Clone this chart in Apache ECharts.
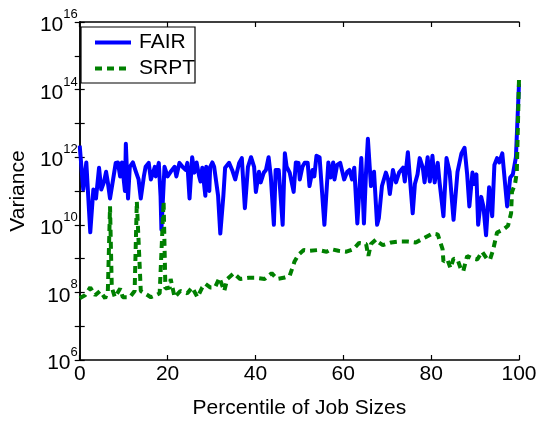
<!DOCTYPE html>
<html>
<head>
<meta charset="utf-8">
<script src="https://cdn.jsdelivr.net/npm/echarts@6/dist/echarts.min.js"></script>
<style>html,body{margin:0;padding:0;background:#fff}#c{width:540px;height:424px}</style>
</head>
<body>
<div id="c"></div>
<script>
var seriesNames = ['FAIR', 'SRPT'];
var xTicks = [0, 20, 40, 60, 80, 100];
var yExponents = [6, 8, 10, 12, 14, 16];
// [percentile, variance]
var fairData = [[0,2.2e12],[0.8,1.1e11],[1.5,7e11],[1.9,6.8e11],[2.4,6e9],[3.1,1.1e11],[3.5,1.1e11],[3.7,6e10],[4.4,4.9e11],[4.9,1.1e11],[5.5,1.8e11],[6.0,3.7e11],[6.4,1.8e11],[6.9,6e10],[7.6,2.2e11],[8.2,6.8e11],[8.7,7e11],[9.2,2.7e11],[9.6,7e11],[10.3,1e11],[10.5,2.5e12],[11.0,6e10],[11.4,5.2e11],[12.1,7e11],[12.8,3.7e11],[13.4,2.2e11],[13.9,6e10],[14.6,2.7e11],[15.0,5.2e11],[15.7,6.8e11],[16.2,2.2e11],[17.1,5.2e11],[17.3,2.7e11],[18.0,6.8e11],[18.4,7.2e10],[18.6,7.2e9],[19.3,5.2e11],[20.0,2.7e11],[20.7,3.7e11],[21.6,5.2e11],[22.0,2.7e11],[22.7,6.8e11],[23.4,5.2e11],[24.1,4.2e11],[24.5,6.8e11],[25.0,6e10],[25.6,1e12],[26.1,3.5e11],[26.6,7e11],[27.2,2.7e11],[27.5,1.9e11],[27.9,4.9e11],[28.6,7.2e10],[28.8,5.2e11],[29.5,1e11],[29.7,5.2e11],[30.2,7e11],[30.6,5.2e11],[31.5,7.2e10],[32.0,5.5e9],[32.7,7.2e10],[33.1,4.9e11],[34.0,6.8e11],[34.7,4.2e11],[35.4,2.2e11],[36.3,6.8e11],[36.9,9.4e11],[37.6,3.1e10],[38.3,5.2e11],[39.0,1e12],[39.7,5.2e11],[40.1,9.4e10],[40.8,3.7e11],[41.2,1.8e11],[41.9,3.5e11],[42.4,4.2e11],[43.0,1e12],[43.5,2.7e11],[44.2,1e10],[44.6,4.2e11],[45.3,4.2e11],[46.2,1e10],[46.7,1.3e12],[47.1,5.2e11],[47.8,3.5e11],[48.2,3.1e11],[48.7,9.4e10],[49.2,7e11],[49.8,6.8e11],[50.1,2.2e11],[50.7,5.2e11],[51.2,6.8e11],[51.9,6.8e11],[52.3,1.4e11],[53.0,4.2e11],[53.4,2.7e11],[53.9,1.1e12],[54.6,1e12],[55.7,1e10],[56.6,7e11],[57.1,2.5e11],[57.7,7e11],[58.0,2.2e11],[58.6,5.9e11],[59.3,6.8e11],[60.2,2.2e11],[60.9,3.7e11],[61.4,4.2e11],[62.0,2.2e11],[62.5,4.9e11],[63.2,1.1e10],[64.1,9.4e11],[64.7,1.1e10],[65.2,4.2e11],[65.6,3.5e12],[66.3,1.4e11],[67.0,3.7e11],[67.7,1e10],[68.1,1.6e10],[68.8,1.4e11],[69.7,3.5e11],[70.2,2.2e11],[70.6,8.1e10],[71.3,4.2e11],[72.0,1.8e11],[72.7,3.5e11],[73.6,4.9e11],[74.0,1.9e11],[74.7,1.4e12],[75.1,3.1e11],[75.8,2.2e10],[76.3,1.6e11],[76.9,3.1e11],[77.4,9.4e11],[78.1,4.9e11],[78.5,1.8e11],[79.2,1e12],[79.7,1.9e11],[80.3,1.1e12],[80.8,1.8e11],[81.5,6.8e11],[81.9,1.9e11],[82.8,1.8e10],[83.5,9.4e11],[84.2,3.7e11],[85.1,1.4e10],[86.0,3.7e11],[86.9,1.3e12],[87.6,1.9e12],[88.2,3.1e11],[88.7,3.5e10],[89.4,3.5e11],[89.8,1.6e11],[90.3,3.1e11],[90.7,1e10],[91.4,6.7e10],[91.9,3.5e10],[92.5,4.9e9],[93.2,1.3e11],[93.9,1.8e10],[94.4,5.9e11],[95.0,9.4e11],[95.5,7e11],[96.2,1.3e12],[97.3,3.5e10],[98.0,2.5e11],[98.6,3.1e11],[99.3,1e12],[100,1.5e14]];
var srptData = [[0,6.7e7],[1.2,8.2e7],[2.4,1.4e8],[3.5,8.2e7],[4.6,1.1e8],[5.8,6.7e7],[6.4,1.1e8],[6.9,3.5e10],[7.3,1.4e8],[8.0,7.2e7],[9.2,1.3e8],[9.8,7.2e7],[11.4,7.2e7],[12.5,1.1e8],[13.0,4.9e10],[13.9,1.1e8],[14.8,9.4e7],[16.2,7.2e7],[17.3,8.2e7],[18.2,9.4e7],[19.1,4.9e10],[19.5,1.3e8],[20.5,1.4e8],[20.7,2.5e8],[21.6,7.2e7],[22.9,1.1e8],[24.5,9.4e7],[25.6,1.4e8],[26.8,7.2e7],[27.9,1.4e8],[28.6,1.8e8],[29.7,1.4e8],[30.8,1.4e8],[31.8,2.7e8],[32.9,1.1e8],[33.6,2.5e8],[35.1,3.7e8],[36.5,2.5e8],[38.5,2.7e8],[40.3,2.7e8],[42.1,2.5e8],[43.7,3.7e8],[44.9,2.5e8],[46.4,2.7e8],[47.8,3.1e8],[48.9,8.2e8],[49.8,1.3e9],[51.0,1.8e9],[52.3,1.7e9],[54.4,1.8e9],[56.2,1.6e9],[57.3,1.9e9],[58.9,1.7e9],[60.7,1.6e9],[62.3,1.9e9],[63.6,2.9e9],[65.2,2.7e9],[65.7,1.2e9],[66.3,2.7e9],[67.5,3.7e9],[68.1,3.0e9],[69.0,2.5e9],[70.9,3.0e9],[72.7,3.2e9],[74.7,3.2e9],[76.5,3.0e9],[78.3,4e9],[80.3,5.5e9],[81.5,5.2e9],[82.6,1.9e9],[82.8,8.2e8],[83.7,9.4e8],[84.4,5.2e8],[85.1,1e9],[86.0,9.4e8],[86.7,5.2e8],[87.3,4.2e8],[88.2,1.2e9],[89.4,1e9],[90.5,9.4e8],[91.6,1.6e9],[92.8,9.4e8],[93.4,9.4e8],[94.1,1.8e9],[95.0,5.9e9],[96.4,7.2e9],[97.5,9.4e9],[98.2,2.2e10],[98.4,9.4e10],[99.1,1.6e11],[99.5,3.7e11],[100,2e14]];

var FONT = "'Liberation Sans', Arial, sans-serif";
var chart = echarts.init(document.getElementById('c'), null, {renderer: 'canvas'});
var axisLineStyle = {color: '#000', width: 1.5};
var tickStyle = {show: true, inside: true, length: 5, lineStyle: {color: '#000', width: 1.2}};
var yMin = Math.pow(10, yExponents[0]), yMax = Math.pow(10, yExponents[yExponents.length - 1]);
function yLabel(v) {
  var e = Math.round(Math.log10(v));
  if (yExponents.indexOf(e) < 0) return '';
  return '{b|10}{s|' + e + '}';
}
var option = {
  animation: false,
  backgroundColor: '#fff',
  grid: {left: 76.5, right: 21, top: 22, bottom: 52, containLabel: false},
  legend: {
    data: seriesNames,
    orient: 'vertical',
    left: 81,
    top: 27,
    padding: [5, 0, 4, 12],
    itemGap: 5,
    itemWidth: 36,
    itemHeight: 14,
    backgroundColor: '#fff',
    borderColor: '#000',
    borderWidth: 1.2,
    borderRadius: 0,
    itemStyle: {opacity: 0},
    lineStyle: {width: 4},
    textStyle: {fontFamily: FONT, fontSize: 21, color: '#000', lineHeight: 20, padding: [0, 0, 0, 3]}
  },
  xAxis: [{
    type: 'value', min: xTicks[0], max: xTicks[xTicks.length - 1], interval: 20,
    name: 'Percentile of Job Sizes', nameLocation: 'middle', nameGap: 38,
    nameTextStyle: {fontFamily: FONT, fontSize: 21, color: '#000'},
    axisLine: {show: true, lineStyle: axisLineStyle},
    axisTick: tickStyle,
    axisLabel: {fontFamily: FONT, fontSize: 21, color: '#000', margin: 4},
    splitLine: {show: false}
  }, {
    type: 'value', min: xTicks[0], max: xTicks[xTicks.length - 1], interval: 20, position: 'top',
    axisLine: {show: true, lineStyle: axisLineStyle},
    axisTick: tickStyle,
    axisLabel: {show: false}, splitLine: {show: false}
  }],
  yAxis: [{
    type: 'log', logBase: 10, min: yMin, max: yMax, interval: 1,
    name: 'Variance', nameLocation: 'middle', nameGap: 49,
    nameTextStyle: {fontFamily: FONT, fontSize: 21, color: '#000'},
    axisLine: {show: true, lineStyle: axisLineStyle},
    axisTick: tickStyle,
    axisLabel: {
      margin: 2, formatter: yLabel,
      rich: {
        b: {fontFamily: FONT, fontSize: 21, color: '#000', lineHeight: 28, verticalAlign: 'bottom'},
        s: {fontFamily: FONT, fontSize: 13, color: '#000', lineHeight: 28, verticalAlign: 'top'}
      }
    },
    splitLine: {show: false}
  }, {
    type: 'log', logBase: 10, min: yMin, max: yMax, interval: 1, position: 'right',
    axisLine: {show: true, lineStyle: axisLineStyle},
    axisTick: tickStyle,
    axisLabel: {show: false}, splitLine: {show: false}
  }],
  series: [{
    name: seriesNames[0], type: 'line', xAxisIndex: 0, yAxisIndex: 0,
    data: fairData, symbol: 'none', smooth: false, clip: true,
    lineStyle: {color: '#0000ff', width: 4, join: 'round'},
    itemStyle: {color: '#0000ff'}, z: 2
  }, {
    name: seriesNames[1], type: 'line', xAxisIndex: 0, yAxisIndex: 0,
    data: srptData, symbol: 'none', smooth: false, clip: true,
    lineStyle: {color: '#008000', width: 4, type: [7, 5]},
    itemStyle: {color: '#008000'}, z: 3
  }]
};
chart.setOption(option);
</script>
</body>
</html>
